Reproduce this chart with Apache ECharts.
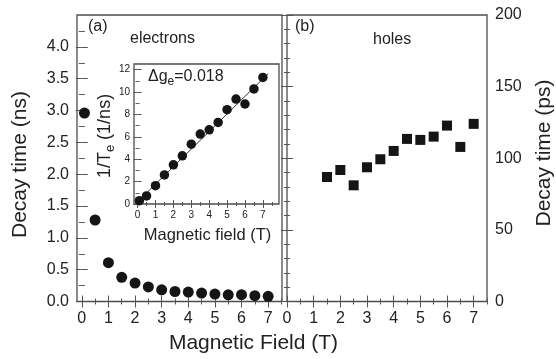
<!DOCTYPE html>
<html><head><meta charset="utf-8">
<script src="https://cdn.jsdelivr.net/npm/echarts@6/dist/echarts.min.js"></script>
<style>html,body{margin:0;padding:0;background:#fff}#c{width:556px;height:359px}</style>
</head><body><div id="c"></div>
<script>
// ---- data ----
const fieldElectrons = [0.1, 0.5, 1, 1.5, 2, 2.5, 3, 3.5, 4, 4.5, 5, 5.5, 6, 6.5, 7];
const decayElectronsNs = [2.96, 1.28, 0.61, 0.38, 0.29, 0.228, 0.184, 0.157, 0.148, 0.133, 0.116, 0.105, 0.107, 0.092, 0.082];
const rateElectrons = [0.3, 0.72, 1.64, 2.6, 3.5, 4.3, 5.34, 6.24, 6.62, 7.28, 8.42, 9.37, 8.93, 10.27, 11.3];
const fitField = [0, 7.3];
const fitRate = [0.2, 11.65];
const fieldHoles = [1.5, 2, 2.5, 3, 3.5, 4, 4.5, 5, 5.5, 6, 6.5, 7];
const decayHolesPs = [86.9, 91.8, 81.1, 93.7, 99.3, 105.1, 113.5, 112.8, 115.1, 122.8, 107.9, 124.0];

// ---- tick values / labels ----
const fieldTicks = [0, 1, 2, 3, 4, 5, 6, 7];
const fieldMinorTicks = [0.5, 1.5, 2.5, 3.5, 4.5, 5.5, 6.5, 7.5];
const decayNsTicks = [0, 0.5, 1, 1.5, 2, 2.5, 3, 3.5, 4];
const decayNsMinorTicks = [0.25, 0.75, 1.25, 1.75, 2.25, 2.75, 3.25, 3.75, 4.25];
const decayPsTicks = [0, 50, 100, 150, 200];
const decayPsMinorTicks = [10, 20, 30, 40, 60, 70, 80, 90, 110, 120, 130, 140, 160, 170, 180, 190];
const rateTicks = [0, 2, 4, 6, 8, 10, 12];
const rateMinorTicks = [1, 3, 5, 7, 9, 11];

const FONT = '"Liberation Sans", Arial, Helvetica, sans-serif';
const TXT = '#222';
const TICK = '#555';
const MARK = '#151515';
const xAxes = [], yAxes = [];
function addAxis(list, o) {
  const ax = {
    type: 'value', gridIndex: o.grid, position: o.pos, min: o.min, max: o.max,
    axisLine: { show: false }, splitLine: { show: false }, minorTick: { show: false },
    axisTick: { show: true, inside: true, length: o.len, customValues: o.ticks, lineStyle: { color: TICK, width: 1 } },
    axisLabel: { show: false }
  };
  if (o.labels) {
    ax.axisLabel = { show: true, customValues: o.labels, margin: o.margin, fontSize: o.fs, color: TXT, fontFamily: FONT };
    if (o.fmt) ax.axisLabel.formatter = o.fmt;
  }
  list.push(ax);
  return list.length - 1;
}
function frame(grid, xr, yr, xt, xm, yt, ym, big, small, xLab, yLab, yLabPos, fs, mx, my, yfmt) {
  const r = {};
  r.x = addAxis(xAxes, { grid, pos: 'bottom', min: xr[0], max: xr[1], len: big, ticks: xt, labels: xLab, fs, margin: mx });
  addAxis(xAxes, { grid, pos: 'bottom', min: xr[0], max: xr[1], len: small, ticks: xm });
  addAxis(xAxes, { grid, pos: 'top', min: xr[0], max: xr[1], len: big, ticks: xt });
  addAxis(xAxes, { grid, pos: 'top', min: xr[0], max: xr[1], len: small, ticks: xm });
  const other = yLabPos === 'left' ? 'right' : 'left';
  r.y = addAxis(yAxes, { grid, pos: yLabPos, min: yr[0], max: yr[1], len: big, ticks: yt, labels: yLab, fs, margin: my, fmt: yfmt });
  addAxis(yAxes, { grid, pos: yLabPos, min: yr[0], max: yr[1], len: small, ticks: ym });
  addAxis(yAxes, { grid, pos: other, min: yr[0], max: yr[1], len: big, ticks: yt });
  addAxis(yAxes, { grid, pos: other, min: yr[0], max: yr[1], len: small, ticks: ym });
  return r;
}
const A = frame(0, [-0.18, 7.52], [0, 4.5], fieldTicks, fieldMinorTicks, decayNsTicks, decayNsMinorTicks, 6, 3,
  fieldTicks, decayNsTicks, 'left', 16, 9, 8, v => Number(v).toFixed(1));
const B = frame(1, [0, 7.5], [0, 200], fieldTicks, fieldMinorTicks, decayPsTicks, decayPsMinorTicks, 6, 3,
  fieldTicks, decayPsTicks, 'right', 16, 9, 8);
const C = frame(2, [-0.2, 7.9], [0, 12.5], fieldTicks, fieldMinorTicks, rateTicks, rateMinorTicks, 4, 2,
  fieldTicks, rateTicks, 'left', 10, 6, 4);

const border = { show: true, borderColor: '#4d4d4d', borderWidth: 1.3 };
function txt(text, x, y, size, opts) {
  opts = opts || {};
  return {
    type: 'text', x, y, rotation: opts.rot || 0, z: 50,
    style: Object.assign({
      text, fontSize: size, fontFamily: FONT, fill: TXT,
      align: opts.align || 'center', verticalAlign: 'middle',
      textAlign: opts.align || 'center', textVerticalAlign: 'middle'
    }, opts.style || {})
  };
}

const chart = echarts.init(document.getElementById('c'), null, { renderer: 'canvas' });
chart.setOption({
  animation: false,
  backgroundColor: '#fff',
  grid: [
    Object.assign({ left: 77, top: 15, width: 205, height: 286.5, backgroundColor: 'transparent' }, border),
    Object.assign({ left: 287, top: 15, width: 200, height: 286.5, backgroundColor: 'transparent' }, border),
    Object.assign({ left: 134, top: 64, width: 145, height: 140, backgroundColor: '#fff' }, border)
  ],
  xAxis: xAxes,
  yAxis: yAxes,
  series: [
    { type: 'scatter', xAxisIndex: A.x, yAxisIndex: A.y, symbol: 'circle', symbolSize: 11,
      itemStyle: { color: MARK, opacity: 1 }, data: fieldElectrons.map((x, i) => [x, decayElectronsNs[i]]) },
    { type: 'line', xAxisIndex: C.x, yAxisIndex: C.y, symbol: 'none', z: 3,
      lineStyle: { color: '#333', width: 1 }, data: fitField.map((x, i) => [x, fitRate[i]]) },
    { type: 'scatter', xAxisIndex: C.x, yAxisIndex: C.y, symbol: 'circle', symbolSize: 9.5, z: 4,
      itemStyle: { color: MARK, opacity: 1 }, data: fieldElectrons.map((x, i) => [x, rateElectrons[i]]) },
    { type: 'scatter', xAxisIndex: B.x, yAxisIndex: B.y, symbol: 'rect', symbolSize: 10,
      itemStyle: { color: MARK, opacity: 1 }, data: fieldHoles.map((x, i) => [x, decayHolesPs[i]]) }
  ],
  graphic: [
    txt('(a)', 88, 27, 16, { align: 'left' }),
    txt('electrons', 130, 39, 16, { align: 'left' }),
    txt('(b)', 295, 27, 16, { align: 'left' }),
    txt('holes', 373, 40, 16, { align: 'left' }),
    txt('{m|Δg}{s|e}{m|=0.018}', 148, 77, 16, { align: 'left', style: { rich: {
      m: { fontSize: 16, fontFamily: FONT, lineHeight: 22, verticalAlign: 'middle', fill: TXT, color: TXT },
      s: { fontSize: 12, fontFamily: FONT, lineHeight: 12, verticalAlign: 'bottom', fill: TXT, color: TXT } } } }),
    txt('Magnetic field (T)', 207.5, 235.5, 16.5),
    txt('{m|1/T}{s|e}{m| (1/ns)}', 105, 136, 18, { rot: Math.PI / 2, style: { rich: {
      m: { fontSize: 18, fontFamily: FONT, lineHeight: 24, verticalAlign: 'middle', fill: TXT, color: TXT },
      s: { fontSize: 13, fontFamily: FONT, lineHeight: 13, verticalAlign: 'bottom', fill: TXT, color: TXT } } } }),
    txt('Decay time (ns)', 20, 164.5, 21, { rot: Math.PI / 2 }),
    txt('Decay time (ps)', 544, 153, 21, { rot: Math.PI / 2 }),
    txt('Magnetic Field (T)', 253.5, 343.5, 21)
  ]
});
</script></body></html>
